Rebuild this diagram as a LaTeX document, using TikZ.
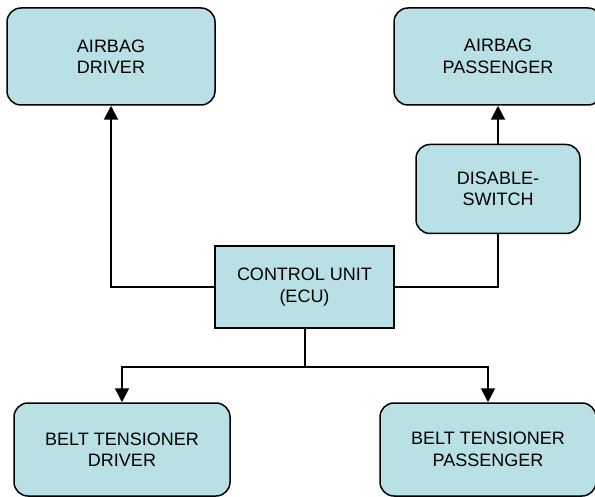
\documentclass[tikz,border=0pt]{standalone}
\usepackage{fontspec}
\setmainfont{Liberation Sans}
\usetikzlibrary{positioning,arrows.meta}
\definecolor{airbagfill}{RGB}{185,224,228}
\tikzset{
    airbagbox/.style={draw, line width=1.5pt, rounded corners=14pt, fill=airbagfill, align=center, inner sep=0pt, font=\fontsize{18}{21.5}\selectfont},
    airbagunit/.style={airbagbox, sharp corners},
    airbagline/.style={draw, line width=2pt},
    airbagarrow/.style={airbagline, -{Triangle[width=14pt, length=14pt]}}
}

\begin{document}
\begin{tikzpicture}[x=1pt, y=1pt]
    \useasboundingbox (0,0) rectangle (595,-497);
    \node[airbagunit, minimum width=179pt, minimum height=82pt] (ecu) at (304.5,-287) {CONTROL UNIT\\(ECU)};
    \node[airbagbox, minimum width=208pt, minimum height=97pt] (airbagdrv) at (111,-56.5) {AIRBAG\\DRIVER};
    \node[airbagbox, minimum width=208pt, minimum height=97pt] (airbagpas) at (498,-56.5) {AIRBAG\\PASSENGER};
    \node[airbagbox, minimum width=164pt, minimum height=89pt, below=38pt of airbagpas] (disable) {DISABLE-\\SWITCH};
    \node[airbagbox, minimum width=216pt, minimum height=93pt] (beltdrv) at (122,-449.5) {BELT TENSIONER\\DRIVER};
    \node[airbagbox, minimum width=216pt, minimum height=93pt] (beltpas) at (488,-449.5) {BELT TENSIONER\\PASSENGER};
    \coordinate[below=38pt of ecu.south] (split);

    \draw[airbagarrow] (ecu.west) -| (airbagdrv.south);
    \draw[airbagline] (ecu.east) -| (disable.south);
    \draw[airbagarrow] (disable) -- (airbagpas);
    \draw[airbagline] (ecu.south) -- (split);
    \draw[airbagarrow] (split) -| (beltdrv.north);
    \draw[airbagarrow] (split) -| (beltpas.north);
\end{tikzpicture}
\end{document}
